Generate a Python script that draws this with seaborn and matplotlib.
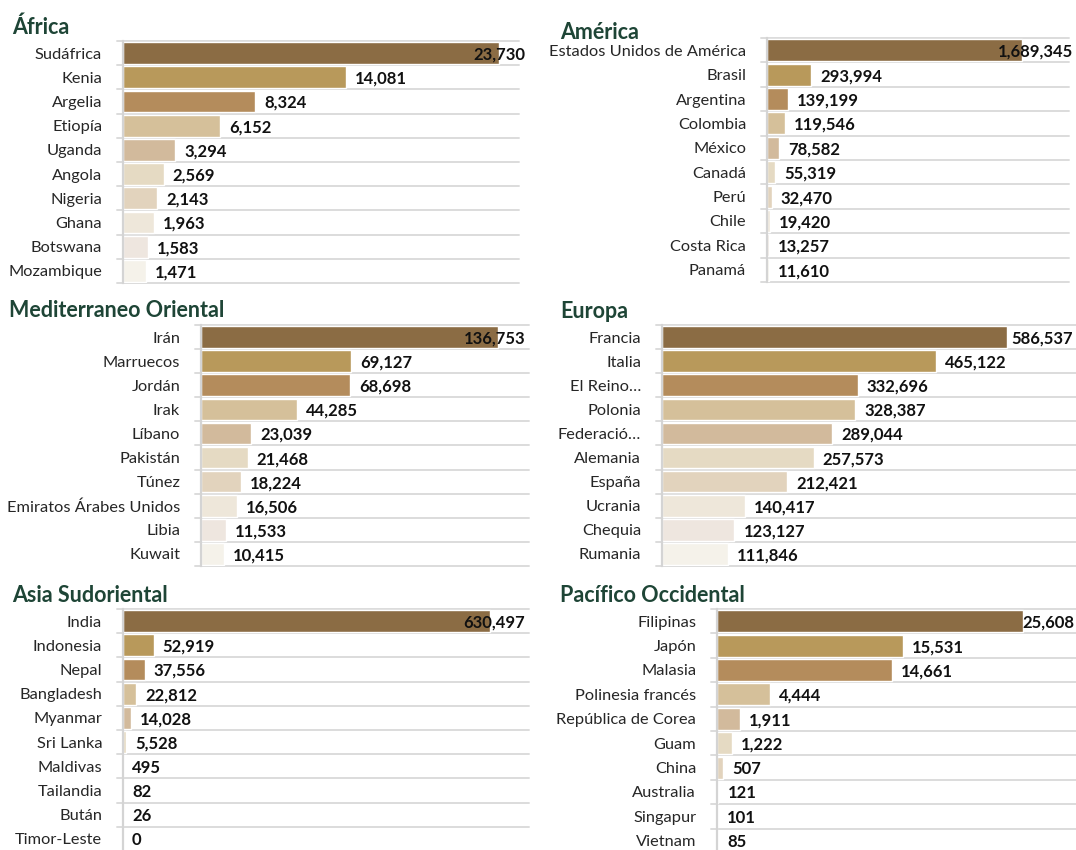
import numpy as np
import pandas as pd
import matplotlib
matplotlib.use("Agg")
import matplotlib.pyplot as plt
import matplotlib.transforms as mtransforms
import seaborn as sns

W, H = 1076, 850

# ---------------- data ----------------
africa_countries = ["Sudáfrica", "Kenia", "Argelia", "Etiopía", "Uganda", "Angola",
                    "Nigeria", "Ghana", "Botswana", "Mozambique"]
africa_values = [23730, 14081, 8324, 6152, 3294, 2569, 2143, 1963, 1583, 1471]

america_countries = ["Estados Unidos de América", "Brasil", "Argentina", "Colombia", "México",
                     "Canadá", "Perú", "Chile", "Costa Rica", "Panamá"]
america_values = [1689345, 293994, 139199, 119546, 78582, 55319, 32470, 19420, 13257, 11610]

med_countries = ["Irán", "Marruecos", "Jordán", "Irak", "Líbano", "Pakistán", "Túnez",
                 "Emiratos Árabes Unidos", "Libia", "Kuwait"]
med_values = [136753, 69127, 68698, 44285, 23039, 21468, 18224, 16506, 11533, 10415]

europe_countries = ["Francia", "Italia", "El Reino…", "Polonia", "Federació…", "Alemania",
                    "España", "Ucrania", "Chequia", "Rumania"]
europe_values = [586537, 465122, 332696, 328387, 289044, 257573, 212421, 140417, 123127, 111846]

asia_countries = ["India", "Indonesia", "Nepal", "Bangladesh", "Myanmar", "Sri Lanka",
                  "Maldivas", "Tailandia", "Bután", "Timor-Leste"]
asia_values = [630497, 52919, 37556, 22812, 14028, 5528, 495, 82, 26, 0]

pacific_countries = ["Filipinas", "Japón", "Malasia", "Polinesia francés", "República de Corea",
                     "Guam", "China", "Australia", "Singapur", "Vietnam"]
pacific_values = [25608, 15531, 14661, 4444, 1911, 1222, 507, 121, 101, 85]

titles = ["África", "América", "Mediterraneo Oriental", "Europa", "Asia Sudoriental",
          "Pacífico Occidental"]

# ---------------- style ----------------
palette = ["#8B6C44", "#B8995B", "#B48C5C", "#D5C09A", "#D2BA9C",
           "#E5DAC3", "#E2D3BD", "#EEE7DA", "#EEE6DF", "#F5F2EA"]
title_color = "#1E4536"
grid_color = "#DCDCDC"
axis_color = "#D4D4D4"

sns.set_theme(style="white")
plt.rcParams["font.family"] = ["Lato", "DejaVu Sans"]

# layout in pixels: (left, right, top, bottom), pixel x where the largest bar ends,
# title position (x, baseline y), right limit for value labels
panels = [
    dict(title=titles[0], c=africa_countries, v=africa_values,
         box=(123, 519, 41, 283), bar_end=499, title_xy=(12, 34), limit=525),
    dict(title=titles[1], c=america_countries, v=america_values,
         box=(767, 1069, 38, 282), bar_end=1022, title_xy=(560, 39), limit=1073),
    dict(title=titles[2], c=med_countries, v=med_values,
         box=(201, 529, 325, 566), bar_end=498, title_xy=(9, 317), limit=525),
    dict(title=titles[3], c=europe_countries, v=europe_values,
         box=(662, 1076, 325, 566), bar_end=1007, title_xy=(560, 318), limit=1073),
    dict(title=titles[4], c=asia_countries, v=asia_values,
         box=(123, 529, 609, 851), bar_end=490, title_xy=(12, 602), limit=525),
    dict(title=titles[5], c=pacific_countries, v=pacific_values,
         box=(717, 1076, 609, 853), bar_end=1023, title_xy=(560, 602), limit=1074),
]

fig = plt.figure(figsize=(W / 100, H / 100), dpi=100)
fig.patch.set_facecolor("white")

value_texts = []
for p in panels:
    l, r, t, b = p["box"]
    ax = fig.add_axes([l / W, 1 - b / H, (r - l) / W, (b - t) / H])
    df = pd.DataFrame({"country": p["c"], "value": p["v"]})
    sns.barplot(data=df, x="value", y="country", hue="country", palette=palette,
                legend=False, ax=ax, width=0.9, orient="h", saturation=1)
    n = len(df)
    vmax = max(p["v"])
    ax.set_xlim(0, vmax * (r - l) / (p["bar_end"] - l))
    ax.set_ylim(n - 0.5, -0.5)
    ax.set_xticks([])
    ax.set_xlabel("")
    ax.set_ylabel("")
    for s in ["top", "right", "bottom"]:
        ax.spines[s].set_visible(False)
    ax.spines["left"].set_color(axis_color)
    ax.spines["left"].set_linewidth(1.6)
    ax.tick_params(axis="y", length=0, pad=15, labelsize=11.8, colors="#262626")
    ax.set_facecolor("none")

    # horizontal separators
    blend = mtransforms.blended_transform_factory(ax.transAxes, ax.transData)
    for k in range(n + 1):
        ax.plot([-6 / (r - l), 1], [k - 0.5, k - 0.5], transform=blend,
                color=grid_color, lw=1.4, clip_on=False, zorder=0)

    # value labels
    off = mtransforms.offset_copy(ax.transData, fig=fig, x=9, y=-1.5, units="dots")
    for i, val in enumerate(p["v"]):
        txt = ax.text(val, i, f"{val:,}", transform=off, ha="left", va="center",
                      fontsize=12, fontweight="bold", color="#111111", zorder=5)
        value_texts.append((ax, txt, p["limit"]))

    fig.text(p["title_xy"][0] / W, 1 - p["title_xy"][1] / H, p["title"],
             fontsize=15.5, fontweight="bold", color=title_color, va="baseline", ha="left")

# keep value labels inside their panel
fig.canvas.draw()
renderer = fig.canvas.get_renderer()
for ax, txt, limit in value_texts:
    bb = txt.get_window_extent(renderer)
    if bb.x1 > limit:
        x_data, y_data = txt.get_position()
        disp_y = ax.transData.transform((x_data, y_data))[1]
        new_x = ax.transData.inverted().transform((limit, disp_y))[0]
        txt.set_transform(mtransforms.offset_copy(ax.transData, fig=fig, x=0, y=-1.5, units="dots"))
        txt.set_position((new_x, y_data))
        txt.set_ha("right")

fig.savefig("out.png", dpi=100, facecolor="white")
